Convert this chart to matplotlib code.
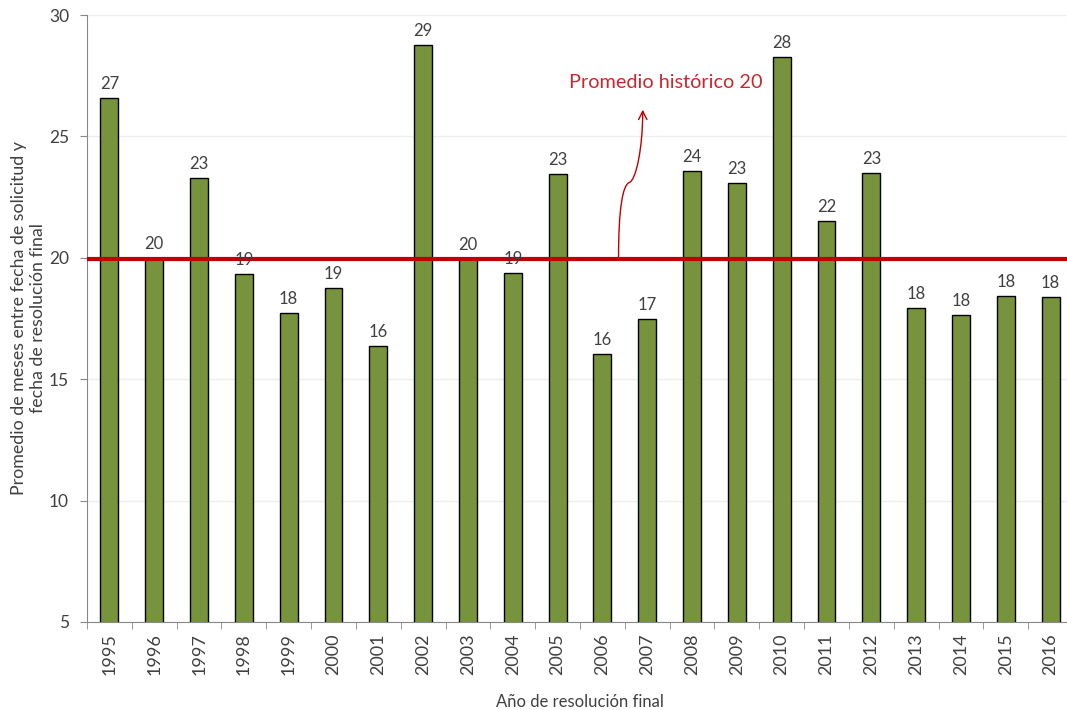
import matplotlib
matplotlib.use("Agg")
import matplotlib.pyplot as plt
from matplotlib.path import Path
from matplotlib.patches import FancyArrowPatch

years = ["1995", "1996", "1997", "1998", "1999", "2000", "2001", "2002", "2003", "2004", "2005",
         "2006", "2007", "2008", "2009", "2010", "2011", "2012", "2013", "2014", "2015", "2016"]
months = [26.58, 19.99, 23.29, 19.33, 17.73, 18.76, 16.37, 28.76, 19.95, 19.37, 23.45,
          16.04, 17.48, 23.57, 23.08, 28.27, 21.52, 23.49, 17.93, 17.64, 18.43, 18.39]
historical_avg = 19.95
avg_label = "Promedio histórico 20"

plt.rcParams['font.family'] = ['Lato', 'DejaVu Sans']
text_color = '#404040'

fig = plt.figure(figsize=(10.67, 7.10), dpi=100)
ax = fig.add_axes([87/1067, 1-622/710, (1073-87)/1067, (622-15)/710])

x = list(range(len(years)))
ax.bar(x, months, width=0.4, bottom=0, color='#77933c', edgecolor='black', linewidth=1, zorder=3)
for xi, v in zip(x, months):
    ax.annotate(f"{round(v)}", (xi, v), xytext=(0, 4.5), textcoords='offset points',
                ha='center', va='bottom', fontsize=12, color=text_color, zorder=5)

ax.axhline(historical_avg, color='#c00000', linewidth=3, zorder=4)

ax.set_ylim(5, 30)
ax.set_xlim(-0.5, len(years) - 0.5)
ax.set_yticks([5, 10, 15, 20, 25, 30])
ax.set_xticks(x)
ax.set_xticklabels(years, rotation=90, fontsize=13, color=text_color)
ax.set_xticks([i - 0.5 for i in range(len(years) + 1)], minor=True)
ax.tick_params(axis='x', which='major', length=0, pad=8)
ax.tick_params(axis='x', which='minor', length=5, color='#888888')
ax.tick_params(axis='y', length=5, color='#888888', labelsize=12.5, labelcolor=text_color, pad=8)
ax.grid(axis='y', color='#eeeeee', linewidth=1, zorder=0)
for s in ['top', 'right']:
    ax.spines[s].set_visible(False)
for s in ['left', 'bottom']:
    ax.spines[s].set_color('#888888')

ax.set_ylabel("Promedio de meses entre fecha de solicitud y\nfecha de resolución final",
              fontsize=12.8, color=text_color, labelpad=2)
ax.set_xlabel("Año de resolución final", fontsize=12, color=text_color, labelpad=14)

# annotation
verts = [(11.36, 20.0), (11.36, 22.0), (11.45, 23.0), (11.6, 23.1),
         (11.75, 23.2), (11.9, 24.5), (11.9, 26.1)]
codes = [Path.MOVETO, Path.CURVE4, Path.CURVE4, Path.CURVE4, Path.CURVE4, Path.CURVE4, Path.CURVE4]
arrow = FancyArrowPatch(path=Path(verts, codes), arrowstyle='->', mutation_scale=15,
                        color='#c00000', linewidth=1, zorder=5)
ax.add_patch(arrow)
ax.text(12.41, 27.24, avg_label, ha='center', va='center', fontsize=14.3, color='#c8282d', zorder=5)

fig.savefig("out.png", dpi=100)
